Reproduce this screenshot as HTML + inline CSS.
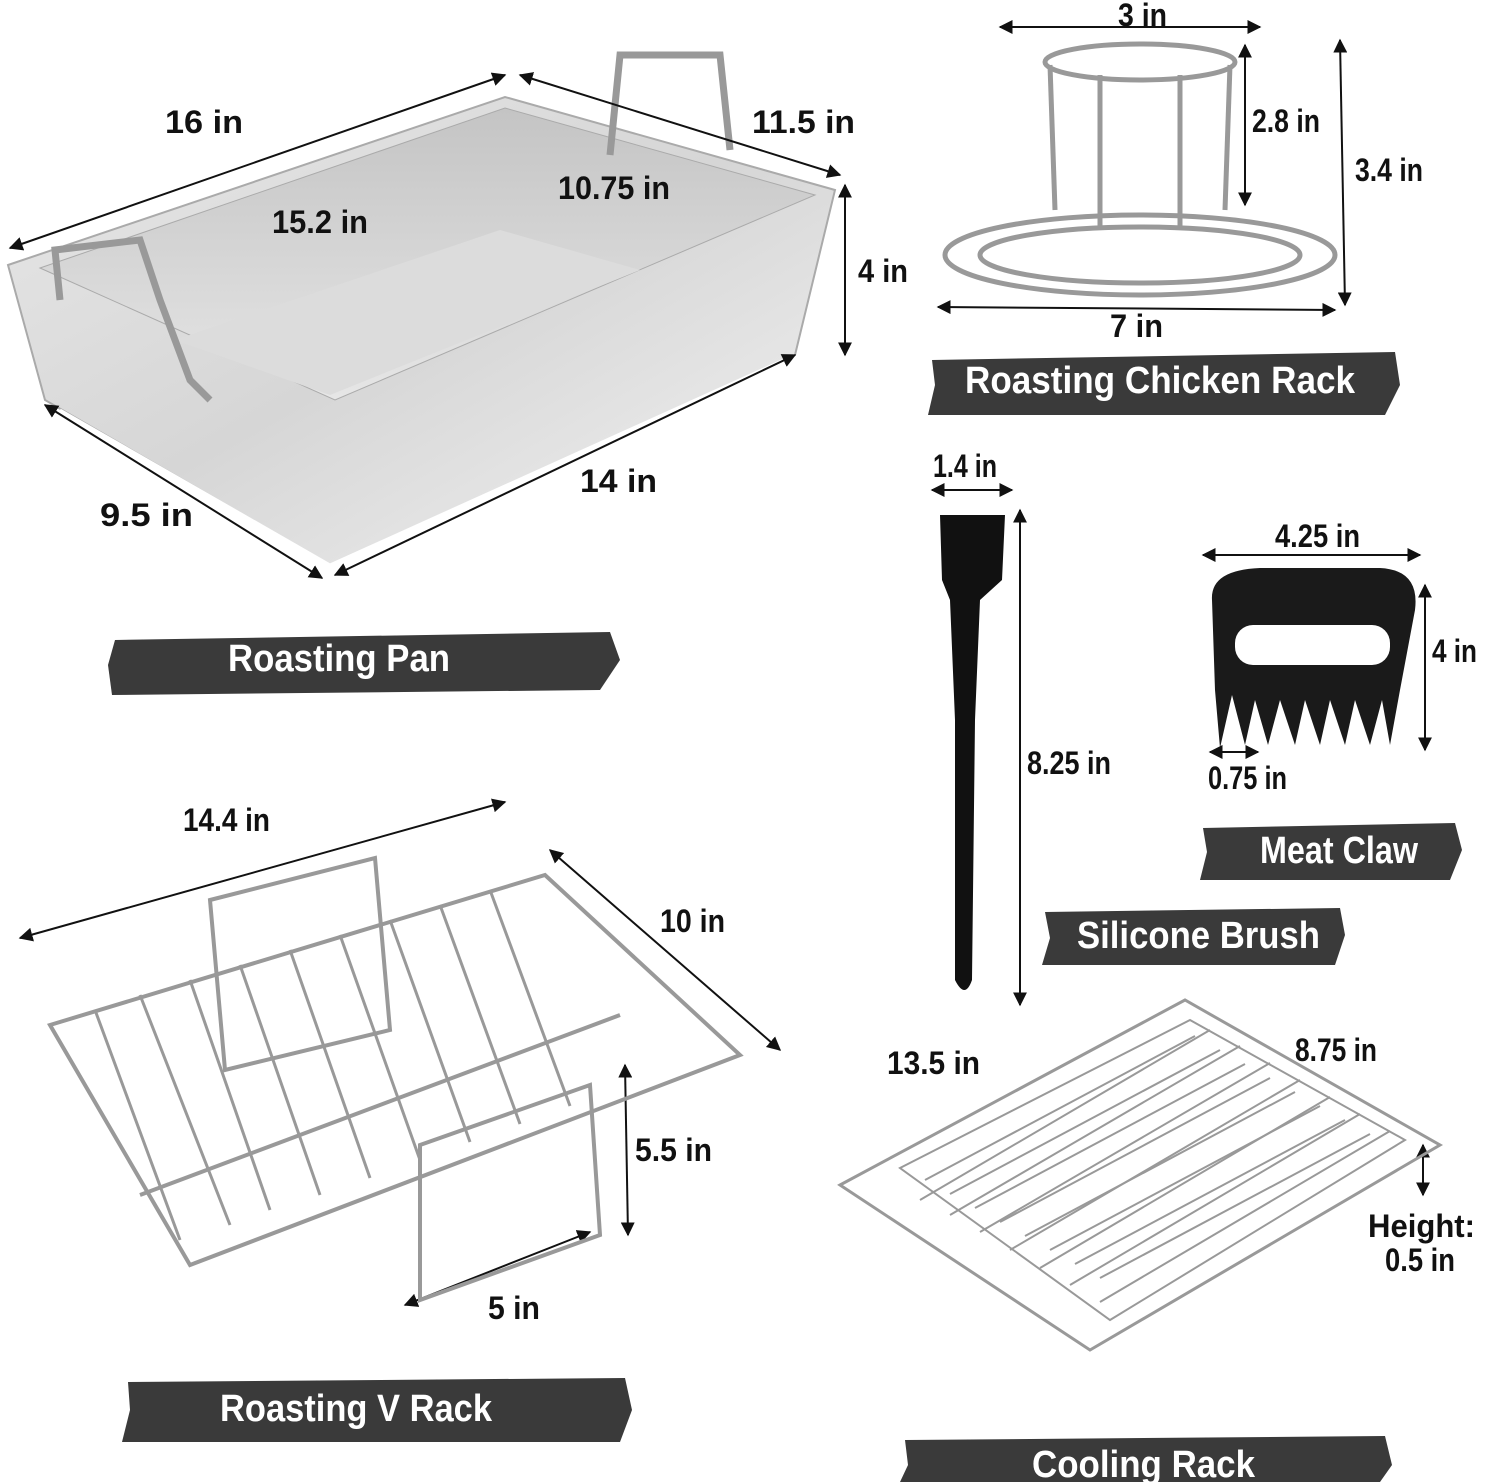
<!DOCTYPE html>
<html><head><meta charset="utf-8"><style>
html,body{margin:0;padding:0;background:#fff}
svg{display:block}
.d{font-family:"Liberation Sans",sans-serif;font-weight:bold;font-size:32px;fill:#111}
.b{font-family:"Liberation Sans",sans-serif;font-weight:bold;font-size:38px;fill:#fff}
</style></head><body>
<svg width="1500" height="1482" viewBox="0 0 1500 1482" xmlns="http://www.w3.org/2000/svg">
<defs>
<marker id="a" viewBox="0 0 10 10" refX="9" refY="5" markerWidth="7" markerHeight="7" orient="auto-start-reverse"><path d="M0,0L10,5L0,10z" fill="#111"/></marker>
<linearGradient id="g1" x1="0" y1="0" x2="1" y2="1"><stop offset="0" stop-color="#e8e8e8"/><stop offset=".5" stop-color="#d6d6d6"/><stop offset="1" stop-color="#f4f4f4"/></linearGradient>
<linearGradient id="g2" x1="0" y1="0" x2="0" y2="1"><stop offset="0" stop-color="#c4c4c4"/><stop offset="1" stop-color="#e6e6e6"/></linearGradient>
</defs>
<g fill="#3a3a3a">
<path d="M115,640 L610,632 L620,660 L600,690 L112,695 L108,665z"/>
<path d="M932,360 L1395,352 L1400,385 L1385,415 L928,415 L935,385z"/>
<path d="M1203,828 L1455,823 L1462,850 L1450,880 L1200,880 L1207,852z"/>
<path d="M1045,912 L1340,908 L1345,935 L1335,965 L1042,965 L1050,938z"/>
<path d="M128,1382 L625,1378 L632,1410 L620,1442 L122,1442 L130,1410z"/>
<path d="M905,1440 L1385,1436 L1392,1465 L1380,1482 L900,1482 L908,1465z"/>
</g>
<g lengthAdjust="spacingAndGlyphs">
<text class="b" x="228" y="671" textLength="222" lengthAdjust="spacingAndGlyphs">Roasting Pan</text>
<text class="b" x="965" y="393" textLength="390" lengthAdjust="spacingAndGlyphs">Roasting Chicken Rack</text>
<text class="b" x="1260" y="863" textLength="158" lengthAdjust="spacingAndGlyphs">Meat Claw</text>
<text class="b" x="1077" y="948" textLength="243" lengthAdjust="spacingAndGlyphs">Silicone Brush</text>
<text class="b" x="220" y="1421" textLength="272" lengthAdjust="spacingAndGlyphs">Roasting V Rack</text>
<text class="b" x="1032" y="1477" textLength="223" lengthAdjust="spacingAndGlyphs">Cooling Rack</text>
</g>

<!-- pan -->
<path d="M8,265 L505,97 L835,190 L795,355 L330,565 L45,400z" fill="url(#g1)" stroke="#aaa" stroke-width="2"/>
<path d="M40,268 L505,108 L815,195 L335,400z" fill="url(#g2)" stroke="#aaa"/>
<path d="M175,340 L500,230 L640,270 L330,395z" fill="#dcdcdc"/>
<path d="M60,410 L330,565 L795,355" fill="none" stroke="#fff" stroke-width="3"/>
<path d="M60,300 L55,250 L140,240 L160,300 L190,380 L210,400" fill="none" stroke="#999" stroke-width="7"/>
<path d="M610,155 L620,55 L720,55 L730,150" fill="none" stroke="#999" stroke-width="7"/>
<g stroke="#111" stroke-width="2" fill="none" marker-start="url(#a)" marker-end="url(#a)">
<line x1="10" y1="248" x2="505" y2="75"/>
<line x1="520" y1="75" x2="840" y2="175"/>
<line x1="845" y1="185" x2="845" y2="355"/>
<line x1="45" y1="405" x2="322" y2="578"/>
<line x1="335" y1="575" x2="795" y2="355"/>
<line x1="1000" y1="27" x2="1260" y2="27"/>
<line x1="1245" y1="45" x2="1245" y2="205"/>
<line x1="1340" y1="40" x2="1345" y2="305"/>
<line x1="938" y1="307" x2="1335" y2="310"/>
<line x1="932" y1="490" x2="1012" y2="490"/>
<line x1="1020" y1="510" x2="1020" y2="1005"/>
<line x1="1203" y1="555" x2="1420" y2="555"/>
<line x1="1425" y1="585" x2="1425" y2="750"/>
<line x1="1210" y1="752" x2="1258" y2="752"/>
<line x1="20" y1="938" x2="505" y2="802"/>
<line x1="550" y1="850" x2="780" y2="1050"/>
<line x1="625" y1="1065" x2="628" y2="1235"/>
<line x1="405" y1="1305" x2="590" y2="1232"/>
<line x1="1423" y1="1145" x2="1423" y2="1195"/>
</g>
<text class="d" x="165" y="133" textLength="78" lengthAdjust="spacingAndGlyphs">16 in</text>
<text class="d" x="752" y="133" textLength="103" lengthAdjust="spacingAndGlyphs">11.5 in</text>
<text class="d" x="558" y="199" textLength="112" lengthAdjust="spacingAndGlyphs">10.75 in</text>
<text class="d" x="272" y="233" textLength="96" lengthAdjust="spacingAndGlyphs">15.2 in</text>
<text class="d" x="858" y="282" textLength="50" lengthAdjust="spacingAndGlyphs">4 in</text>
<text class="d" x="580" y="492" textLength="77" lengthAdjust="spacingAndGlyphs">14 in</text>
<text class="d" x="100" y="526" textLength="93" lengthAdjust="spacingAndGlyphs">9.5 in</text>
<text class="d" x="1118" y="26" textLength="49" lengthAdjust="spacingAndGlyphs">3 in</text>
<text class="d" x="1252" y="132" textLength="68" lengthAdjust="spacingAndGlyphs">2.8 in</text>
<text class="d" x="1355" y="181" textLength="68" lengthAdjust="spacingAndGlyphs">3.4 in</text>
<text class="d" x="1110" y="337" textLength="53" lengthAdjust="spacingAndGlyphs">7 in</text>
<text class="d" x="933" y="477" textLength="64" lengthAdjust="spacingAndGlyphs">1.4 in</text>
<text class="d" x="1275" y="547" textLength="85" lengthAdjust="spacingAndGlyphs">4.25 in</text>
<text class="d" x="1280" y="667" textLength="68" lengthAdjust="spacingAndGlyphs">3.5 in</text>
<text class="d" x="1432" y="662" textLength="45" lengthAdjust="spacingAndGlyphs">4 in</text>
<text class="d" x="1208" y="789" textLength="79" lengthAdjust="spacingAndGlyphs">0.75 in</text>
<text class="d" x="1027" y="774" textLength="84" lengthAdjust="spacingAndGlyphs">8.25 in</text>
<text class="d" x="183" y="831" textLength="87" lengthAdjust="spacingAndGlyphs">14.4 in</text>
<text class="d" x="660" y="932" textLength="65" lengthAdjust="spacingAndGlyphs">10 in</text>
<text class="d" x="635" y="1161" textLength="77" lengthAdjust="spacingAndGlyphs">5.5 in</text>
<text class="d" x="488" y="1319" textLength="52" lengthAdjust="spacingAndGlyphs">5 in</text>
<text class="d" x="887" y="1074" textLength="93" lengthAdjust="spacingAndGlyphs">13.5 in</text>
<text class="d" x="1295" y="1061" textLength="82" lengthAdjust="spacingAndGlyphs">8.75 in</text>
<text class="d" x="1368" y="1237" textLength="107" lengthAdjust="spacingAndGlyphs">Height:</text>
<text class="d" x="1385" y="1271" textLength="70" lengthAdjust="spacingAndGlyphs">0.5 in</text>

<!-- chicken rack -->
<g fill="none" stroke="#999" stroke-width="5">
<ellipse cx="1140" cy="255" rx="195" ry="40"/>
<ellipse cx="1140" cy="255" rx="160" ry="28"/>
<ellipse cx="1140" cy="62" rx="95" ry="18"/>
<line x1="1050" y1="65" x2="1055" y2="210"/><line x1="1230" y1="65" x2="1225" y2="210"/>
<line x1="1100" y1="75" x2="1100" y2="230"/><line x1="1180" y1="75" x2="1180" y2="230"/>
</g>
<!-- brush -->
<path d="M940,515 L1005,515 L1002,580 L980,600 L975,720 L972,980 Q965,1000 955,980 L955,720 L950,600 L942,580z" fill="#111"/>
<!-- claw -->
<path d="M1212,600 Q1210,570 1260,568 L1380,568 Q1420,570 1415,610 L1400,690 L1390,745 L1382,700 L1370,745 L1355,700 L1345,745 L1330,700 L1320,745 L1305,700 L1295,745 L1280,700 L1268,745 L1255,700 L1245,745 L1232,695 L1220,748 L1215,690z" fill="#1a1a1a"/>
<rect x="1235" y="625" width="155" height="40" rx="18" fill="#fff"/>
<!-- V rack -->
<g fill="none" stroke="#999" stroke-width="4">
<path d="M50,1025 L545,875 L740,1055 L190,1265z"/>
<path d="M140,1195 L620,1015"/>
<path d="M210,900 L375,858 L390,1030 L225,1070z"/>
<path d="M420,1145 L590,1085 L600,1235 L420,1300z"/>
<g stroke-width="3"><path d="M95,1010 L180,1240 M140,995 L230,1225 M190,980 L270,1210 M240,965 L320,1195 M290,950 L370,1178 M340,935 L420,1160 M390,920 L470,1142 M440,905 L520,1124 M490,890 L570,1106"/></g>
</g>
<!-- cooling rack -->
<g fill="none" stroke="#999" stroke-width="3">
<path d="M840,1185 L1185,1000 L1440,1145 L1090,1350z"/>
<path d="M900,1168 L1190,1020 L1405,1140 L1110,1320z" stroke-width="2"/>
<g stroke-width="2"><path d="M925,1180 L1195,1036 M950,1194 L1220,1050 M975,1208 L1245,1064 M1000,1222 L1270,1078 M1025,1236 L1295,1092 M1050,1250 L1320,1106 M1075,1264 L1345,1120 M1100,1278 L1370,1134"/>
<path d="M1210,1030 L920,1200 M1240,1046 L950,1215 M1270,1063 L980,1232 M1300,1080 L1010,1250 M1330,1097 L1040,1268 M1360,1114 L1070,1285 M1390,1131 L1100,1302"/></g>
</g>
</svg>
</body></html>
